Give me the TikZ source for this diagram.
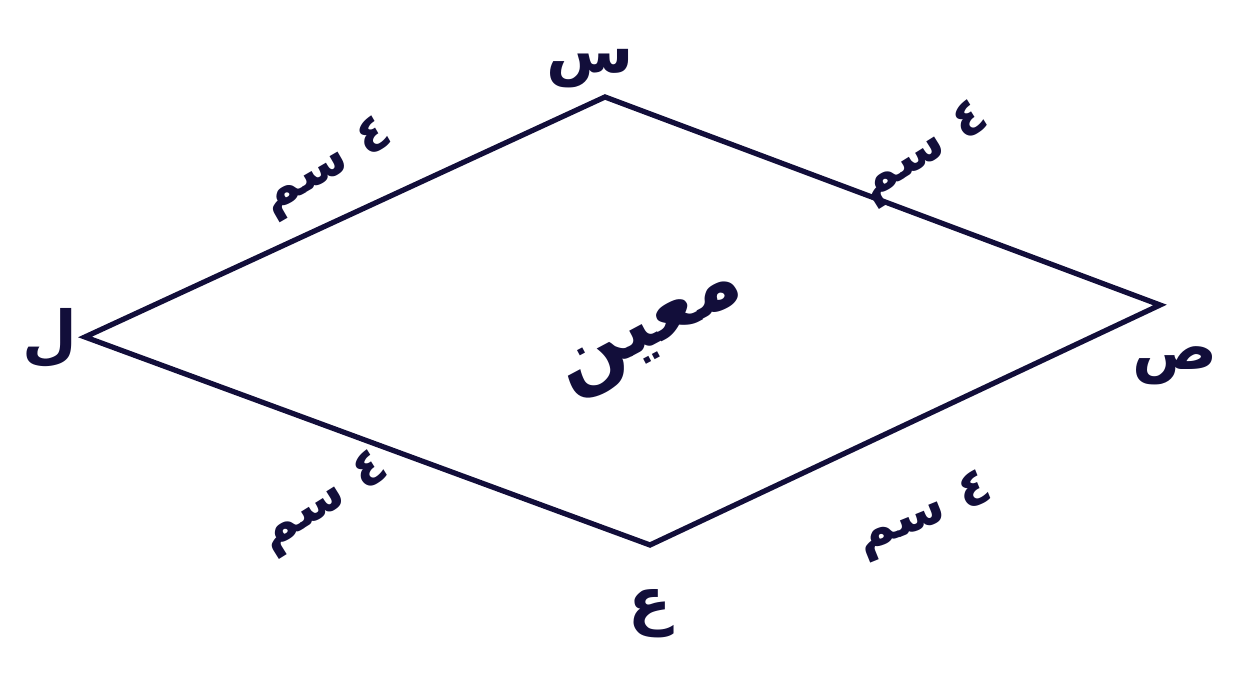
\documentclass[tikz,border=0pt]{standalone}
\usepackage{fontspec}
\newfontfamily\arabicfont[Script=Arabic]{DejaVu Sans}
\TeXXeTstate=1
\definecolor{ink}{RGB}{18,14,58}

\tikzset{
    vlabel/.style={text=ink, font=\arabicfont\bfseries\fontsize{36}{40}\selectfont, inner sep=1pt},
    slabel/.style={text=ink, font=\arabicfont\bfseries\fontsize{30}{34}\selectfont, inner sep=1pt},
}

\begin{document}
\begin{tikzpicture}
                \useasboundingbox (0,0) rectangle (24.7,13.62);

                % Vertices
                \coordinate (S) at (12.1,11.68);
                \coordinate (Sad) at (23.2,7.52);
                \coordinate (Ain) at (13.0,2.72);
                \coordinate (L) at (1.7,6.88);

                % Rhombus
                \draw[ink, line width=3pt, line join=miter] (L) -- (S) -- (Sad) -- (Ain) -- cycle;

                % Vertex labels
                \node[vlabel] (labS) at (11.8,12.25) {\beginR س\endR};
                \node[vlabel] (labSad) at (23.5,6.3) {\beginR ص\endR};
                \node[vlabel] (labAin) at (13.0,1.35) {\beginR ع\endR};
                \node[vlabel] (labL) at (1.0,6.85) {\beginR ل\endR};

                % Name of the figure
                \node[vlabel, rotate=28, font=\arabicfont\bfseries\fontsize{46}{52}\selectfont] (name) at (13.1,6.85) {\beginR معين\endR};

                % Side lengths
                \node[slabel, rotate=30] (sideLS) at (6.55,10.25) {\beginR ٤ سم\endR};
                \node[slabel, rotate=32] (sideSSad) at (18.5,10.55) {\beginR ٤ سم\endR};
                \node[slabel, rotate=32] (sideLAin) at (6.5,3.55) {\beginR ٤ سم\endR};
                \node[slabel, rotate=22] (sideAinSad) at (18.5,3.3) {\beginR ٤ سم\endR};
            \end{tikzpicture}
\end{document}
